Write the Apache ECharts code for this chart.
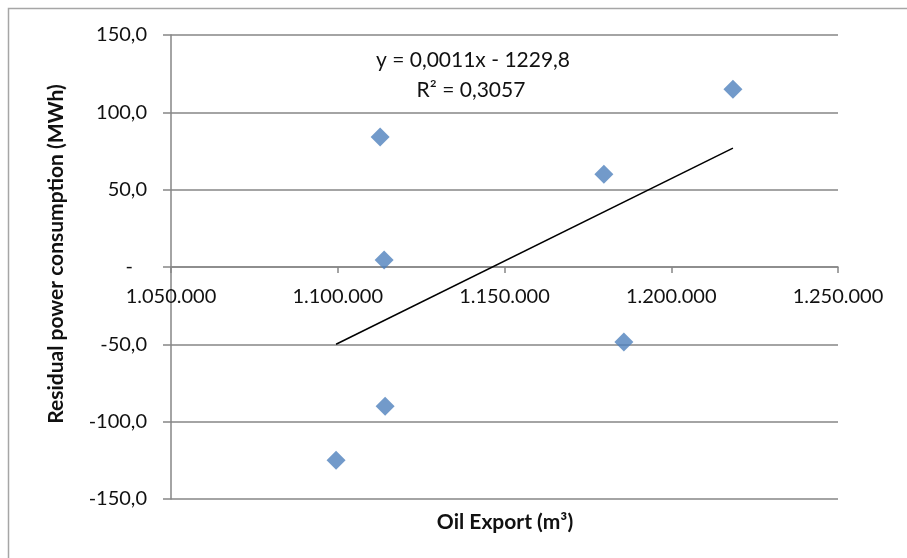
<!DOCTYPE html>
<html>
<head>
<meta charset="utf-8">
<script src="https://cdn.jsdelivr.net/npm/echarts@6/dist/echarts.min.js"></script>
<style>
  html, body { margin: 0; padding: 0; background: #fff; }
  #chart { width: 907px; height: 558px; }
</style>
</head>
<body>
<div id="chart"></div>
<script>
// Oil export volume (m³) per period
var oilExport = [1099500, 1112700, 1113900, 1114200, 1179800, 1185800, 1218500];
// Residual power consumption (MWh) for the same periods
var residualPower = [-125.0, 84.0, 4.5, -90.0, 60.0, -48.5, 115.0];
// Trendline annotation
var equationText = 'y = 0,0011x - 1229,8';
var r2Text = 'R² = 0,3057';
// Axis ranges
var xTicks = { min: 1050000, max: 1250000, step: 50000 };
var yTicks = { min: -150, max: 150, step: 50 };

var FONT = 'Lato, "Open Sans", sans-serif';
var GRAY = '#868686';
var GRID = { left: 171, top: 35, right: 69, bottom: 59 };
var PLOT_H = 558 - GRID.top - GRID.bottom;

var points = oilExport.map(function (x, i) { return [x, residualPower[i]]; });

// Least-squares linear trend
var n = oilExport.length;
var mx = oilExport.reduce(function (a, b) { return a + b; }, 0) / n;
var my = residualPower.reduce(function (a, b) { return a + b; }, 0) / n;
var sxy = 0, sxx = 0;
for (var i = 0; i < n; i++) {
  sxy += (oilExport[i] - mx) * (residualPower[i] - my);
  sxx += (oilExport[i] - mx) * (oilExport[i] - mx);
}
var slope = sxy / sxx;
var intercept = my - slope * mx;
var xMin = Math.min.apply(null, oilExport);
var xMax = Math.max.apply(null, oilExport);
var trend = [[xMin, intercept + slope * xMin], [xMax, intercept + slope * xMax]];

// The horizontal axis crosses the vertical one at y = 0
var xAxisOffset = -PLOT_H * (0 - yTicks.min) / (yTicks.max - yTicks.min);

function fmtThousands(v) {
  return String(Math.round(v)).replace(/\B(?=(\d{3})+(?!\d))/g, '.');
}

var chart = echarts.init(document.getElementById('chart'), null, { renderer: 'canvas' });
chart.setOption({
  backgroundColor: '#fff',
  animation: false,
  textStyle: { fontFamily: FONT },
  grid: { left: GRID.left, top: GRID.top, right: GRID.right, bottom: GRID.bottom, containLabel: false },
  xAxis: {
    type: 'value',
    position: 'bottom',
    offset: xAxisOffset,
    min: xTicks.min, max: xTicks.max, interval: xTicks.step,
    axisLine: { show: true, onZero: false, lineStyle: { color: GRAY, width: 1.5 } },
    axisTick: { show: true, inside: false, length: 6, lineStyle: { color: GRAY, width: 1.5 } },
    axisLabel: {
      margin: 20, color: '#111', fontSize: 20, fontFamily: FONT,
      formatter: function (v) { return fmtThousands(v); }
    },
    splitLine: { show: false }
  },
  yAxis: {
    type: 'value',
    min: yTicks.min, max: yTicks.max, interval: yTicks.step,
    axisLine: { show: true, onZero: false, lineStyle: { color: GRAY, width: 1.5 } },
    axisTick: { show: true, inside: false, length: 8, lineStyle: { color: GRAY, width: 1.5 } },
    axisLabel: {
      margin: 24, color: '#111', fontSize: 20, fontFamily: FONT,
      formatter: function (v) {
        if (v === 0) return '{dash|-}';
        return v.toFixed(1).replace('.', ',');
      },
      rich: { dash: { fontSize: 20, fontFamily: FONT, color: '#111', padding: [0, 14, 0, 0] } }
    },
    splitLine: { show: true, lineStyle: { color: GRAY, width: 1.5 } }
  },
  graphic: [
    {
      type: 'rect', silent: true, z: -1,
      shape: { x: 8.5, y: 8.5, width: 1000, height: 700 },
      style: { fill: 'none', stroke: '#a6a6a6', lineWidth: 1.5 }
    },
    {
      type: 'text', silent: true,
      x: 56, y: 254, rotation: Math.PI / 2,
      style: {
        text: 'Residual power consumption (MWh)',
        fontFamily: FONT, fontSize: 21, fontWeight: 'bold', fill: '#111',
        align: 'center', verticalAlign: 'middle'
      }
    },
    {
      type: 'text', silent: true, x: 505, y: 522,
      style: {
        text: 'Oil Export (m³)',
        fontFamily: FONT, fontSize: 21, fontWeight: 'bold', fill: '#111',
        align: 'center', verticalAlign: 'middle'
      }
    },
    {
      type: 'text', silent: true, x: 473, y: 60,
      style: { text: equationText, fontFamily: FONT, fontSize: 21, fill: '#111', align: 'center', verticalAlign: 'middle' }
    },
    {
      type: 'text', silent: true, x: 471, y: 90,
      style: { text: r2Text, fontFamily: FONT, fontSize: 21, fill: '#111', align: 'center', verticalAlign: 'middle' }
    }
  ],
  series: [
    {
      type: 'line',
      data: trend,
      symbol: 'none',
      lineStyle: { color: '#000', width: 1.5 },
      z: 3
    },
    {
      type: 'scatter',
      data: points,
      symbol: 'diamond',
      symbolSize: [19, 19],
      itemStyle: { color: '#4F81BD' },
      z: 4
    }
  ]
});
</script>
</body>
</html>
